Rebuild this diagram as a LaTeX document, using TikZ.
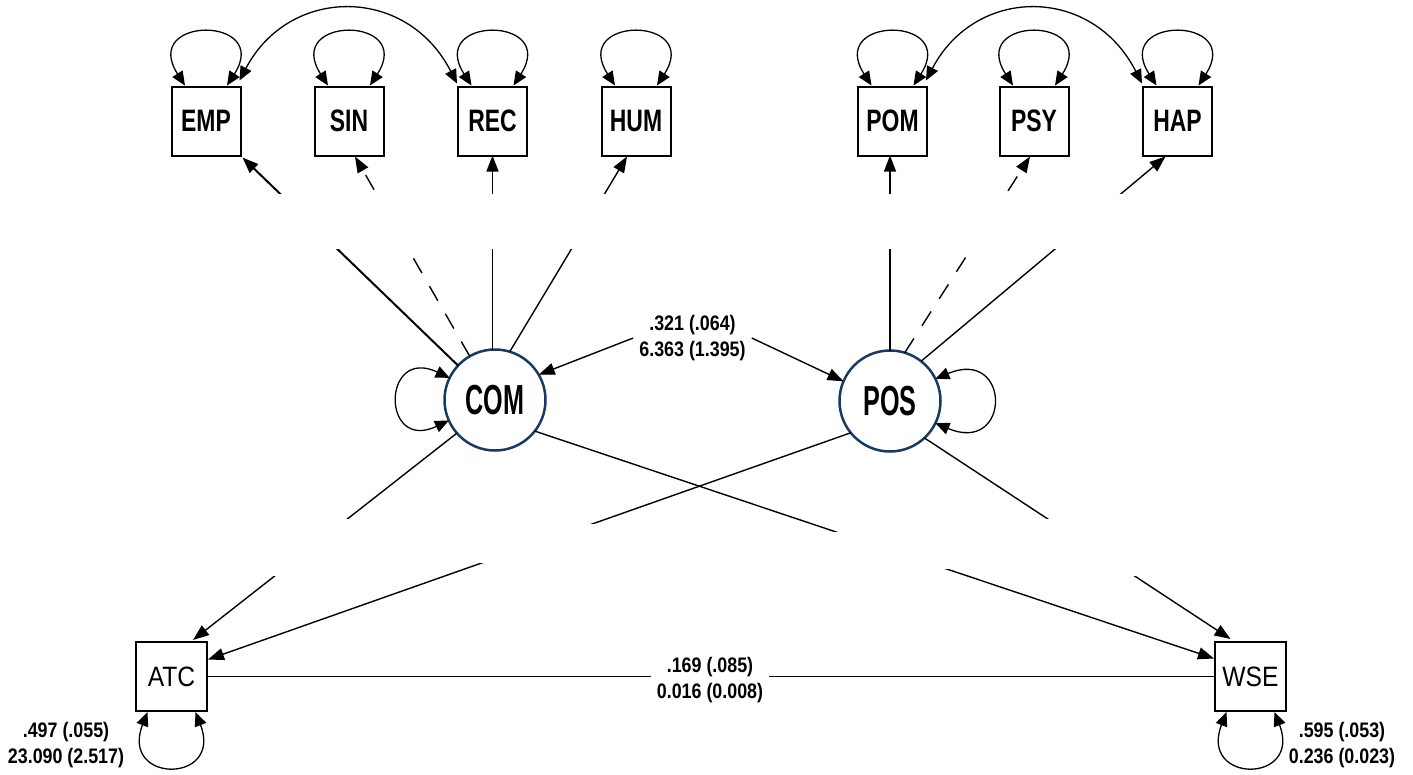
\documentclass[tikz,border=0pt]{standalone}
\usepackage{fontspec}
\setmainfont{Liberation Sans}
\newfontfamily\idfont[FakeStretch=0.74]{Liberation Sans}
\newfontfamily\latfont[FakeStretch=0.6]{Liberation Sans}
\newfontfamily\obsfont[FakeStretch=0.88]{Liberation Sans}
\newfontfamily\numfont[FakeStretch=0.85]{Liberation Sans}
\usetikzlibrary{arrows.meta,calc}
\definecolor{latblue}{RGB}{22,58,100}
\begin{document}
\begin{tikzpicture}[x=1pt,y=-1pt,
  ind/.style={draw,line width=2pt,minimum width=69pt,minimum height=69pt,inner sep=0pt,outer sep=0pt,
    font=\idfont\bfseries\fontsize{31}{31}\selectfont},
  lat/.style={circle,draw=latblue,line width=2.5pt,minimum size=101pt,inner sep=0pt,outer sep=0pt,
    font=\latfont\bfseries\fontsize{42}{42}\selectfont},
  obs/.style={draw,line width=2pt,minimum width=71pt,minimum height=69pt,inner sep=0pt,outer sep=0pt,
    font=\obsfont\fontsize{28}{28}\selectfont},
  lbl/.style={fill=white,align=center,inner xsep=6pt,inner ysep=4pt,
    font=\numfont\bfseries\fontsize{21}{26}\selectfont},
  conn/.style={line width=1.4pt,-{Triangle[length=16pt,width=12pt]}},
  plainline/.style={line width=1.4pt},
  dashline/.style={dash pattern=on 17pt off 15pt},
  loopa/.style={line width=1.3pt,{Triangle[length=14pt,width=12pt]}-{Triangle[length=14pt,width=12pt]}},
  gapbox/.style={fill=white,draw=none}
]
\useasboundingbox (0,0) rectangle (1413,774);

% indicators
\node[ind] (EMP) at (206,121) {EMP};
\node[ind] (SIN) at (349,121) {SIN};
\node[ind] (REC) at (492.5,121) {REC};
\node[ind] (HUM) at (636,121) {HUM};
\node[ind] (POM) at (892.5,121) {POM};
\node[ind] (PSY) at (1034,121) {PSY};
\node[ind] (HAP) at (1177.5,121) {HAP};
% latent
\node[lat] (COM) at (495,400) {COM};
\node[lat] (POS) at (890,401) {POS};
% observed outcomes
\node[obs] (ATC) at (171.5,676.5) {ATC};
\node[obs] (WSE) at (1250.5,676.5) {WSE};

% indicator self loops
\foreach \n in {EMP,SIN,REC,HUM,POM,PSY,HAP}{
  \draw[loopa] ($(\n.north)+(-21,-1)$) .. controls +(-45,-70) and +(45,-70) .. ($(\n.north)+(21,-1)$);
}
% indicator covariances
\draw[loopa] ($(EMP.north east)+(-1,-6)$) .. controls +(50,-95) and +(-50,-98) .. ($(REC.north west)+(-1,-3)$);
\draw[loopa] ($(POM.north east)+(-1,-6)$) .. controls +(50,-95) and +(-50,-98) .. ($(HAP.north west)+(-1,-3)$);

% loadings
\draw[conn,line width=2pt] (COM.137) -- ($(EMP.south east)+(2,2)$);
\draw[conn,dashline] (COM.120) -- ($(SIN.south)+(6,1)$);
\draw[conn] (REC.south |- COM.north) -- (REC.south);
\draw[conn] (COM.73) -- ($(HUM.south)+(-9,1)$);
\draw[conn] (POS.north) -- (POS.north |- POM.south);
\draw[conn,dashline] (POS.73) -- ($(PSY.south)+(-4,1)$);
\draw[conn] (POS.52) -- ($(HAP.south)+(-12,1)$);

% structural paths
\draw[conn] (COM.221) -- ($(ATC.north)+(21.5,-2)$);
\draw[conn] (POS.219) -- ($(ATC.east)+(1,-17)$);
\draw[conn] (COM.322) -- ($(WSE.west)+(-1,-18)$);
\draw[conn] (POS.313) -- ($(WSE.north)+(-20,-3)$);

% gaps left by removed labels
\fill[gapbox] (262,194) rectangle (1135,249);
\fill[gapbox] (262,519) rectangle (358,576);
\fill[gapbox] (470,524) rectangle (610,563);
\fill[gapbox] (815,532) rectangle (955,569);
\fill[gapbox] (1040,519) rectangle (1140,576);

% latent self loops
\draw[loopa] (COM.154) .. controls +(-68,-32) and +(-68,32) .. (COM.204);
\draw[loopa] (POS.26) .. controls +(76,-32) and +(76,32) .. (POS.-26);

% latent covariance
\node[lbl] (lcov) at (692.5,338) {.321 (.064)\\6.363 (1.395)};
\draw[conn] (lcov.west) -- (COM.30);
\draw[conn] (lcov.east) -- (POS.157);

% residual covariance ATC--WSE
\node[lbl] (lcor) at (710,680.5) {.169 (.085)\\0.016 (0.008)};
\draw[plainline] (ATC.east) -- (ATC.east -| lcor.west);
\draw[plainline] (WSE.west -| lcor.east) -- (WSE.west);

% residual variances
\draw[loopa] ($(ATC.south)+(-24,1)$) .. controls +(-28,72) and +(28,72) .. ($(ATC.south)+(24,1)$);
\draw[loopa] ($(WSE.south)+(-24,1)$) .. controls +(-28,72) and +(28,72) .. ($(WSE.south)+(24,1)$);
\node[lbl,fill=none] (ratc) at (66,745) {.497 (.055)\\23.090 (2.517)};
\node[lbl,fill=none] (rwse) at (1342,745) {.595 (.053)\\0.236 (0.023)};
\end{tikzpicture}
\end{document}
